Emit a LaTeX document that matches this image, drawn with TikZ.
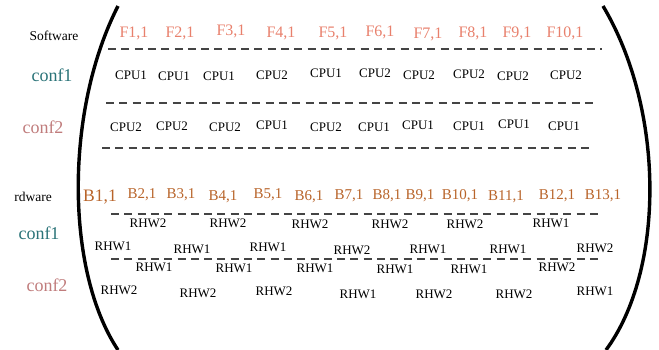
\documentclass[tikz,border=0pt]{standalone}
\usepackage{fontspec}
\setmainfont{Liberation Serif}
\definecolor{fcol}{HTML}{E8806C}
\definecolor{bcol}{HTML}{B8642A}
\definecolor{conftea}{HTML}{2A7378}
\definecolor{confrose}{HTML}{C07C7C}
\definecolor{dashgray}{HTML}{444444}
\tikzset{
  lbl/.style={inner sep=0pt, font=\fontsize{#1}{#1}\selectfont},
  flbl/.style={lbl=16, text=fcol},
  blbl/.style={lbl=15, text=bcol},
  cpu/.style={lbl=13},
  rhw/.style={lbl=13},
  title/.style={lbl=13.5},
  conf1/.style={lbl=18, text=conftea},
  conf2/.style={lbl=18, text=confrose},
  sep/.style={draw=dashgray, line width=1.1pt, dash pattern=on 8pt off 5.3pt},
  paren/.style={line width=3.4pt, line cap=butt}
}
\begin{document}
\begin{tikzpicture}[x=1pt, y=-1pt]
\useasboundingbox (0,0) rectangle (659,349);

% software block: function labels and CPU assignments
\node[title] (sw) at (54,36) {Software};
\node[conf1] (sc1) at (52,75) {conf1};
\node[conf2] (sc2) at (43,127) {conf2};

\foreach \i/\x/\y in {1/134/33, 2/180/33, 3/231/31, 4/281/33, 5/333/33,
                      6/380/32, 7/428/34, 8/473/33, 9/517/33, 10/565/33}
  \node[flbl] (F\i) at (\x,\y) {F\i,1};

\foreach \n/\x/\y/\c in {1/131/75/1, 2/174/76/1, 3/219/76/1, 4/272/75/2, 5/326/73/1,
                         6/375/73/2, 7/419/75/2, 8/469/74/2, 9/513/76/2, 10/566/75/2}
  \node[cpu] (a\n) at (\x,\y) {CPU\c};

\foreach \n/\x/\y/\c in {1/126/127/2, 2/172/126/2, 3/225/127/2, 4/272/125/1, 5/326/127/2,
                         6/374/127/1, 7/418/125/1, 8/469/126/1, 9/514/124/1, 10/564/126/1}
  \node[cpu] (b\n) at (\x,\y) {CPU\c};

\coordinate (s1a) at (108,49);  \coordinate (s1b) at (602,49);
\coordinate (s2a) at (106,103); \coordinate (s2b) at (598,103);
\coordinate (s3a) at (102,148); \coordinate (s3b) at (594,148);
\draw[sep] (s1a) -- (s1b);
\draw[sep] (s2a) -- (s2b);
\draw[sep] (s3a) -- (s3b);

% hardware block: block labels and RHW assignments
\node[title, anchor=east] (hw) at (52,197) {rdware};
\node[conf1] (hc1) at (39,233) {conf1};
\node[conf2] (hc2) at (47,285) {conf2};

\node[lbl=17.5, text=bcol] (B1) at (100,197) {B1,1};
\foreach \i/\x/\y in {2/142/195, 3/181/195, 4/223/197, 5/268/195, 6/309/197, 7/349/196,
                      8/387/196, 9/420/196, 10/460/196, 11/506/197, 12/557/196, 13/603/196}
  \node[blbl] (B\i) at (\x,\y) {B\i,1};

\coordinate (s4a) at (111,214); \coordinate (s4b) at (603,214);
\coordinate (s5a) at (111,259); \coordinate (s5b) at (603,259);
\draw[sep] (s4a) -- (s4b);
\draw[sep] (s5a) -- (s5b);

\foreach \n/\x/\y/\c in {1/148/223/2, 2/228/223/2, 3/310/224/2, 4/390/224/2, 5/465/224/2, 6/551/223/1}
  \node[rhw] (p\n) at (\x,\y) {RHW\c};
\foreach \n/\x/\y/\c in {1/113/246/1, 2/192/249/1, 3/268/247/1, 4/352/250/2, 5/428/249/1, 6/508/249/1, 7/595/248/2}
  \node[rhw] (q\n) at (\x,\y) {RHW\c};
\foreach \n/\x/\y/\c in {1/154/267/1, 2/234/268/1, 3/315/268/1, 4/395/269/1, 5/469/269/1, 6/557/267/2}
  \node[rhw] (r\n) at (\x,\y) {RHW\c};
\foreach \n/\x/\y/\c in {1/119/290/2, 2/198/293/2, 3/274/291/2, 4/358/294/1, 5/434/294/2, 6/514/294/2, 7/595/291/1}
  \node[rhw] (t\n) at (\x,\y) {RHW\c};

% enclosing parentheses
\coordinate (lt) at (118,6);  \coordinate (lb) at (118,350);
\coordinate (rt) at (603,6);  \coordinate (rb) at (606,350);
\draw[paren] (lt) .. controls (65,110) and (65,270) .. (lb);
\draw[paren] (rt) .. controls (665,110) and (665,270) .. (rb);
\end{tikzpicture}
\end{document}
